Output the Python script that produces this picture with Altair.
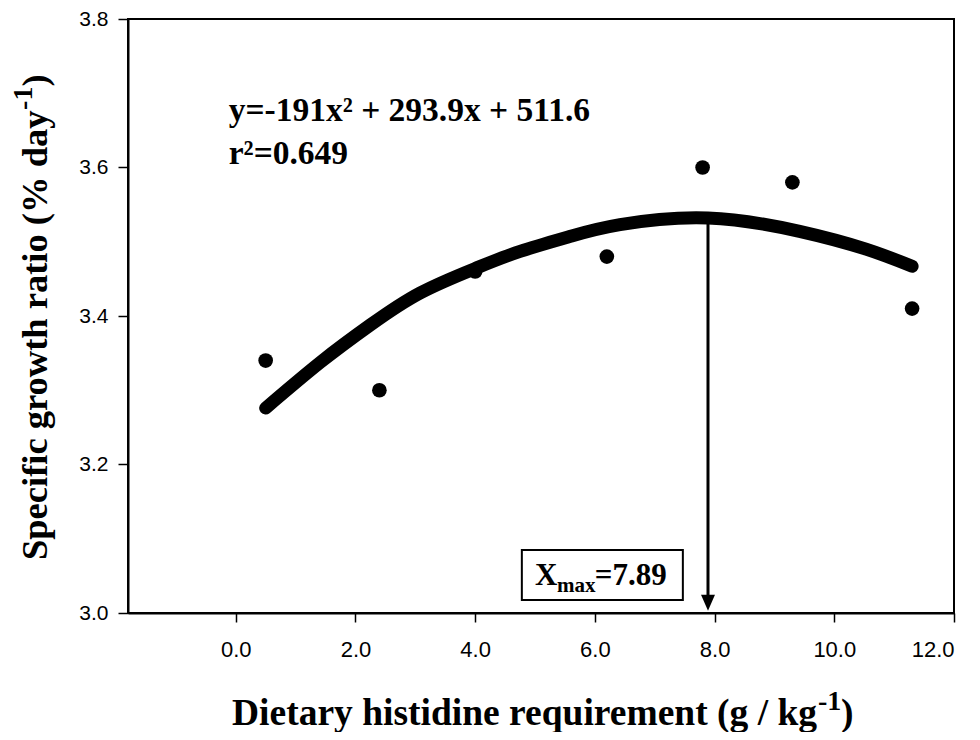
import altair as alt
import pandas as pd

# ---- data ----
obs_x = [0.5, 2.4, 4.0, 6.2, 7.8, 9.3, 11.3]
obs_y = [3.34, 3.30, 3.46, 3.48, 3.60, 3.58, 3.41]

fit_x = [0.5, 1.42, 2.25, 3.08, 4.0, 4.75, 5.58, 6.42, 7.89, 9.42, 10.53, 11.3]
fit_y = [3.276, 3.338, 3.388, 3.431, 3.464, 3.487, 3.507, 3.523, 3.532, 3.514, 3.490, 3.467]

x_ticks = [0, 2, 4, 6, 8, 10, 12]
y_ticks = [3.0, 3.2, 3.4, 3.6, 3.8]
x_domain = [-1.8, 12]
y_domain = [3.0, 3.8]

x_max = 7.89
y_peak = 3.532

eq_text = ["y=-191x\u00b2 + 293.9x + 511.6", "r\u00b2=0.649"]
eq_x = [-0.117, -0.117]
eq_y = [3.6626, 3.6047]

box_x = [4.78, 7.47]
box_y = [3.0175, 3.085]
box_parts = ["X", "max", "=7.89"]
box_part_x = [5.0, 5.367, 6.0]
box_part_y = [3.0377, 3.0283, 3.0377]
box_part_size = [31, 21, 31]

x_title = ["Dietary histidine requirement (g / kg", "-1", ")"]
y_title = ["Specific growth ratio (% day", "-1", ")"]

SERIF = "Liberation Serif"

xs = alt.Scale(domain=x_domain, nice=False, zero=False)
ys = alt.Scale(domain=y_domain, nice=False, zero=False)

fit_df = pd.DataFrame({"x": fit_x, "y": fit_y})
obs_df = pd.DataFrame({"x": obs_x, "y": obs_y})

x_axis = alt.Axis(values=x_ticks, format=".1f", title=None, grid=False,
                  labelFontSize=22, labelPadding=17, tickSize=9)
y_axis = alt.Axis(values=y_ticks, format=".1f", title=None, grid=False,
                  labelFontSize=21, labelPadding=10, tickSize=10)

curve = alt.Chart(fit_df).mark_line(
    color="black", strokeWidth=13, strokeCap="round", interpolate="natural"
).encode(
    x=alt.X("x:Q", scale=xs, axis=x_axis),
    y=alt.Y("y:Q", scale=ys, axis=y_axis),
)

points = alt.Chart(obs_df).mark_circle(color="black", size=215, opacity=1).encode(
    x=alt.X("x:Q", scale=xs, axis=x_axis), y=alt.Y("y:Q", scale=ys, axis=y_axis)
)

arrow_df = pd.DataFrame({"x": [x_max], "y": [y_peak], "y2": [3.022], "tip": [3.003]})
arrow_line = alt.Chart(arrow_df).mark_rule(color="black", strokeWidth=3).encode(
    x=alt.X("x:Q", scale=xs, axis=x_axis), y=alt.Y("y:Q", scale=ys, axis=y_axis), y2="y2:Q"
)
arrow_head = alt.Chart(arrow_df).mark_point(
    shape="M-0.7,-1.6L0.7,-1.6L0,0Z", size=400, filled=True, color="black", opacity=1
).encode(x=alt.X("x:Q", scale=xs, axis=x_axis), y=alt.Y("tip:Q", scale=ys, axis=y_axis))

box_df = pd.DataFrame({"x": [box_x[0]], "x2": [box_x[1]], "y": [box_y[0]], "y2": [box_y[1]]})
box = alt.Chart(box_df).mark_rect(fill="white", stroke="black", strokeWidth=2).encode(
    x=alt.X("x:Q", scale=xs, axis=x_axis), x2="x2:Q", y=alt.Y("y:Q", scale=ys, axis=y_axis), y2="y2:Q"
)

box_text_df = pd.DataFrame({"t": box_parts, "x": box_part_x, "y": box_part_y, "s": box_part_size})
box_text = alt.Chart(box_text_df).mark_text(
    font=SERIF, fontWeight="bold", align="left", baseline="alphabetic", color="black"
).encode(
    x=alt.X("x:Q", scale=xs, axis=x_axis), y=alt.Y("y:Q", scale=ys, axis=y_axis), text="t:N",
    size=alt.Size("s:Q", scale=None, legend=None),
)

eq_df = pd.DataFrame({"t": eq_text, "x": eq_x, "y": eq_y})
eq = alt.Chart(eq_df).mark_text(
    font=SERIF, fontWeight="bold", fontSize=33.5, align="left", baseline="alphabetic", color="black"
).encode(x=alt.X("x:Q", scale=xs, axis=x_axis), y=alt.Y("y:Q", scale=ys, axis=y_axis), text="t:N")

# axis titles composed of pieces (pixel positions relative to the plot origin)
xt_df = pd.DataFrame({"t": x_title, "px": [104, 690, 713], "py": [706, 691, 706], "s": [37.5, 28, 37.5]})
xt = alt.Chart(xt_df).mark_text(
    font=SERIF, fontWeight="bold", align="left", baseline="alphabetic", color="black"
).encode(
    x=alt.X("px:Q", scale=None), y=alt.Y("py:Q", scale=None), text="t:N",
    size=alt.Size("s:Q", scale=None, legend=None),
)

yt_df = pd.DataFrame({"t": y_title, "px": [-81, -96, -81], "py": [541, 90.9, 67.6], "s": [36.5, 28, 36.5]})
yt = alt.Chart(yt_df).mark_text(
    font=SERIF, fontWeight="bold", align="left", baseline="alphabetic", color="black", angle=270
).encode(
    x=alt.X("px:Q", scale=None), y=alt.Y("py:Q", scale=None), text="t:N",
    size=alt.Size("s:Q", scale=None, legend=None),
)

chart = alt.layer(curve, points, arrow_line, arrow_head, box, box_text, eq, xt, yt).properties(
    width=826, height=594,
    padding={"left": 120, "top": 11, "right": 10, "bottom": 119},
    autosize=alt.AutoSizeParams(type="none"),
).configure_view(
    stroke="black", strokeWidth=2
).configure_axis(
    domainColor="black", domainWidth=2, tickColor="black", tickWidth=1.5,
    labelColor="black", labelFont="Liberation Sans"
)

chart.save("out.html", embed_options={"renderer": "svg", "actions": False})
